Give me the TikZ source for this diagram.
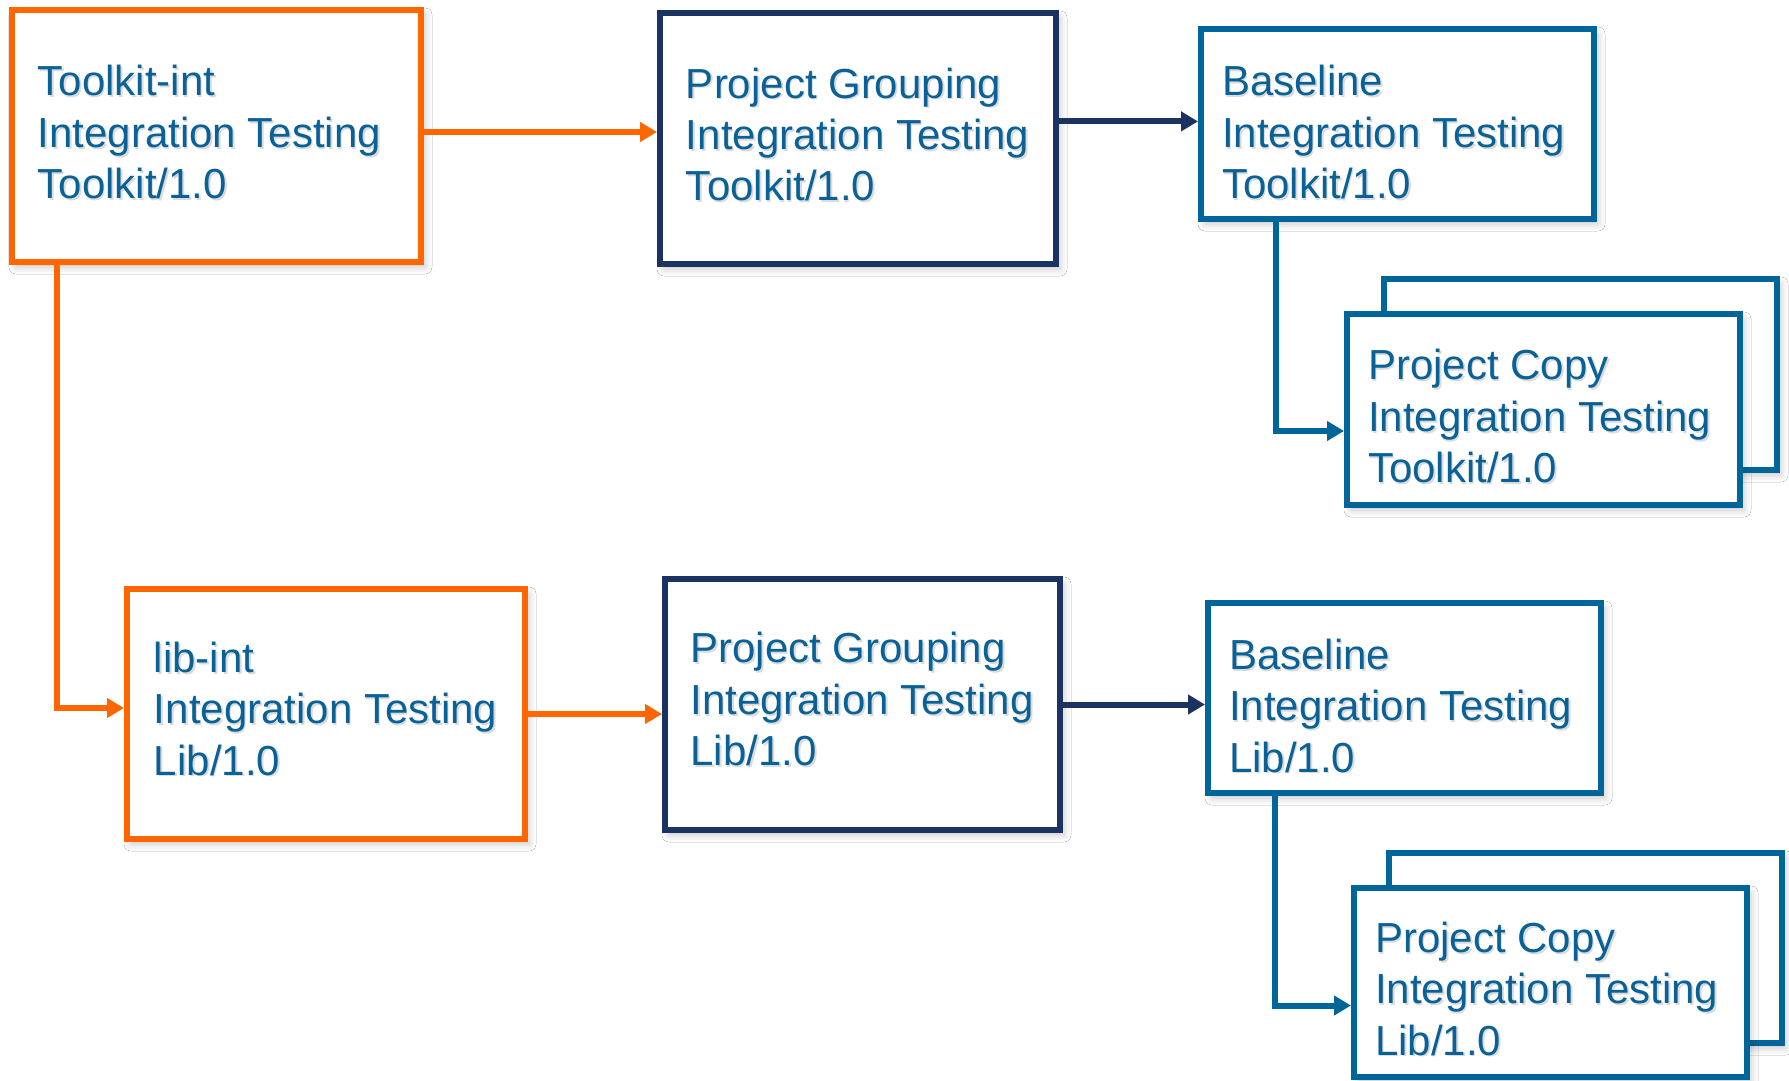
\documentclass[tikz,border=0pt]{standalone}
\usepackage{fontspec}
\setmainfont{Liberation Sans}
\usetikzlibrary{arrows.meta,shadows.blur}
\definecolor{orng}{HTML}{FF6600}
\definecolor{navy}{HTML}{1B3360}
\definecolor{steel}{HTML}{006699}
\definecolor{txtblue}{HTML}{0A6196}
% text with a soft grey drop shadow
\newcommand\shtxt[1]{\leavevmode\rlap{\kern0.9pt\raisebox{-0.9pt}{\color{black!14}#1}}#1}
\tikzset{
  boxbase/.style={draw, fill=white, line width=3pt, anchor=north west,
    inner sep=0pt,
    blur shadow={shadow xshift=2pt, shadow yshift=-2.5pt,
      shadow blur radius=3.5pt, shadow opacity=22}},
  orangebox/.style={boxbase, draw=orng},
  navybox/.style={boxbase, draw=navy},
  bluebox/.style={boxbase, draw=steel},
  lbl/.style={align=left, inner sep=0pt, anchor=center, text=txtblue,
    font=\fontsize{21}{25.7}\selectfont},
  link/.style={line width=3pt, -{Triangle[length=8.5pt,width=9.5pt]}},
}
\begin{document}
\begin{tikzpicture}[x=0.5pt, y=-0.5pt]
\path[use as bounding box, fill=white] (0,0) rectangle (1789,1081);

% upper row: Toolkit
\node[orangebox, minimum width=204.5pt, minimum height=126pt] (a) at (9,7) {};
\node[lbl] (at) at ([xshift=-3.6pt, yshift=1.4pt]a.center)
  {\shtxt{Toolkit-int}\\\shtxt{Integration Testing}\\\shtxt{Toolkit/1.0}};
\node[navybox, minimum width=198pt, minimum height=125.5pt] (b) at (657,10) {};
\node[lbl] (bt) at ([xshift=-0.2pt, yshift=1.6pt]b.center)
  {\shtxt{Project Grouping}\\\shtxt{Integration Testing}\\\shtxt{Toolkit/1.0}};
\node[bluebox, minimum width=196.5pt, minimum height=95pt] (c) at (1198,26) {};
\node[lbl] (ct) at ([xshift=-1.9pt, yshift=-4.6pt]c.center)
  {\shtxt{Baseline}\\\shtxt{Integration Testing}\\\shtxt{Toolkit/1.0}};
\node[bluebox, minimum width=196.5pt, minimum height=95.5pt] (dback) at (1381,276) {};
\node[bluebox, minimum width=196.5pt, minimum height=95.5pt] (d) at (1344,311) {};
\node[lbl] (dt) at ([xshift=-1.9pt, yshift=-3.8pt]d.center)
  {\shtxt{Project Copy}\\\shtxt{Integration Testing}\\\shtxt{Toolkit/1.0}};

% lower row: Lib
\node[orangebox, minimum width=199pt, minimum height=125pt] (e) at (124,586) {};
\node[lbl] (et) at ([xshift=-0.2pt, yshift=2.2pt]e.center)
  {\shtxt{lib-int}\\\shtxt{Integration Testing}\\\shtxt{Lib/1.0}};
\node[navybox, minimum width=197.5pt, minimum height=125.5pt] (f) at (662,576) {};
\node[lbl] (ft) at ([xshift=-0.2pt, yshift=2.2pt]f.center)
  {\shtxt{Project Grouping}\\\shtxt{Integration Testing}\\\shtxt{Lib/1.0}};
\node[bluebox, minimum width=196.5pt, minimum height=95pt] (g) at (1205,600) {};
\node[lbl] (gt) at ([xshift=-1.9pt, yshift=-4.3pt]g.center)
  {\shtxt{Baseline}\\\shtxt{Integration Testing}\\\shtxt{Lib/1.0}};
\node[bluebox, minimum width=196.5pt, minimum height=95pt] (hback) at (1386,850) {};
\node[bluebox, minimum width=196.5pt, minimum height=94.5pt] (h) at (1351,885) {};
\node[lbl] (ht) at ([xshift=-1.9pt, yshift=-3.5pt]h.center)
  {\shtxt{Project Copy}\\\shtxt{Integration Testing}\\\shtxt{Lib/1.0}};

% connectors
\coordinate (ab) at ([yshift=2pt]a.east);
\draw[link, color=orng] (ab) -- (ab -| b.west);
\coordinate (bc) at ([yshift=1.3pt]c.west);
\draw[link, color=navy] (bc -| b.east) -- (bc);
\draw[link, color=steel] ([xshift=39pt]c.south west) |- ([yshift=-10.75pt]d.west);

\draw[link, color=orng] ([xshift=24pt]a.south west) |- ([yshift=3pt]e.west);
\draw[link, color=orng] (e.east) -- (e.east -| f.west);
\draw[link, color=navy] (f.east) -- (f.east -| g.west);
\draw[link, color=steel] ([xshift=35pt]g.south west) |- ([yshift=-11.5pt]h.west);
\end{tikzpicture}
\end{document}
